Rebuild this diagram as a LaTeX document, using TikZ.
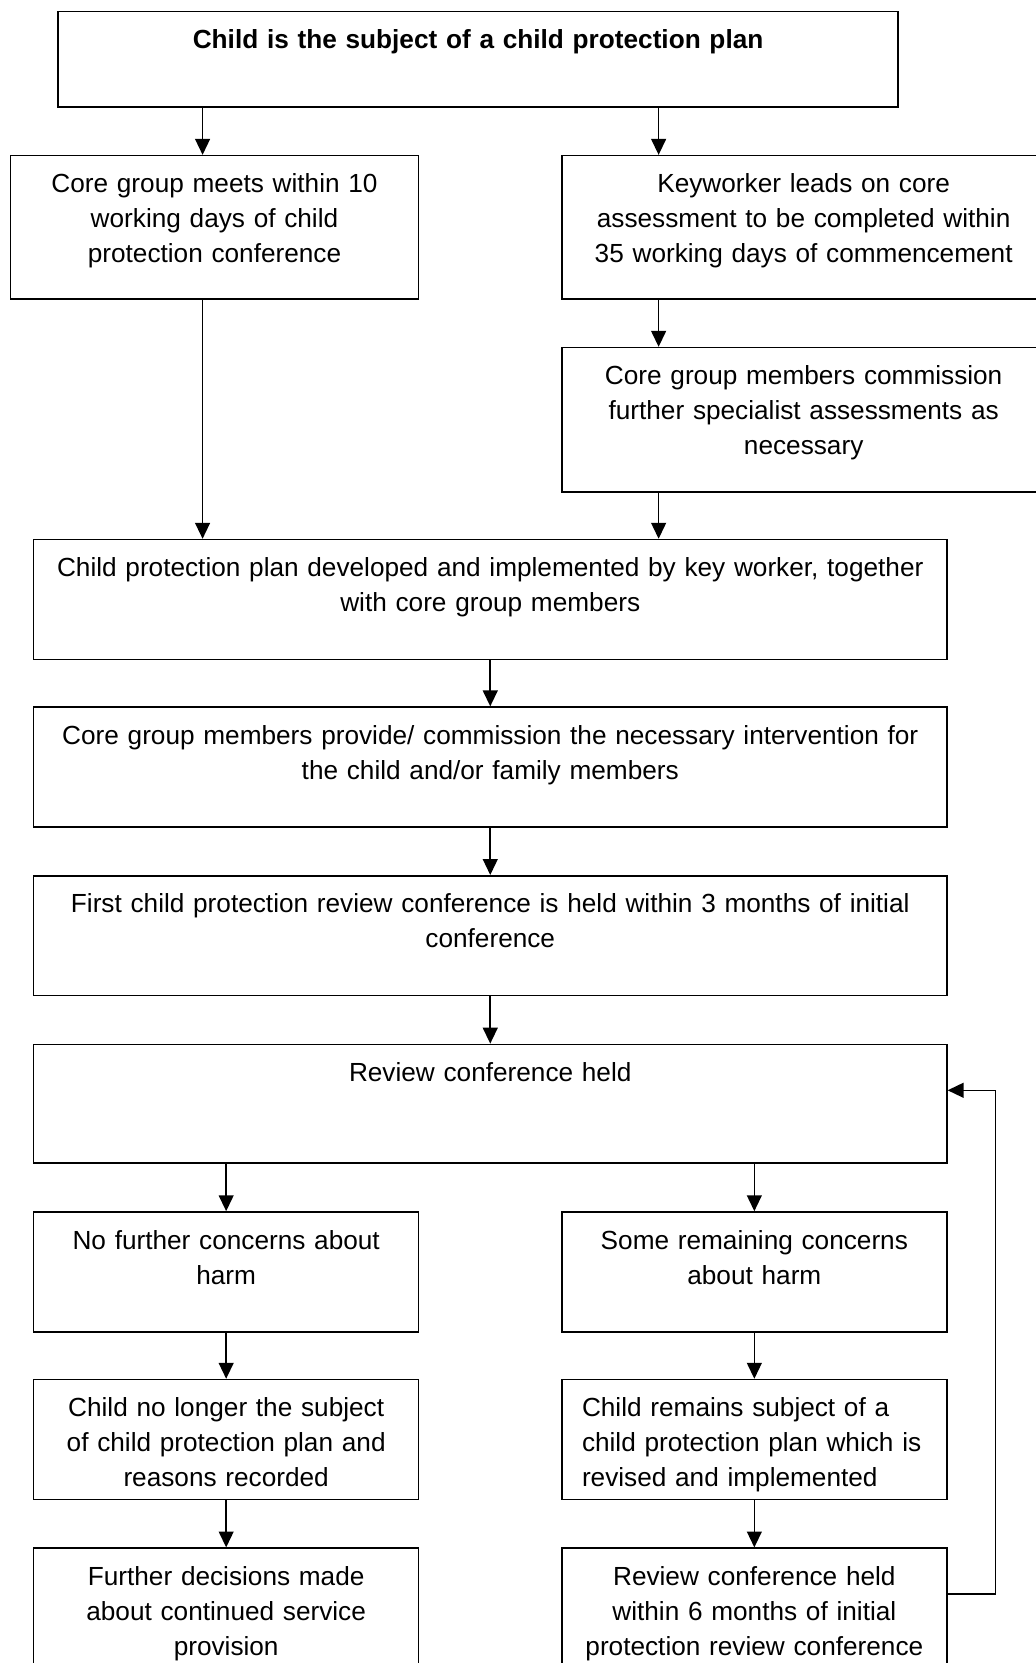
\documentclass[tikz,border=0pt]{standalone}
\usepackage{fontspec}
\setmainfont{Liberation Sans}
\usepackage{tikz}
\usetikzlibrary{arrows.meta}
\tikzset{
  flowarrow/.style={-{Triangle[length=15pt, width=14pt]}, line width=1.5pt},
  stepbox/.style={draw, line width=1.5pt, anchor=north west, inner sep=0pt, align=center, text height=35pt},
  leftbox/.style={stepbox, align=left, inner xsep=19pt}
}

\begin{document}
\begin{tikzpicture}[x=1pt, y=-1pt, every node/.style={font=\fontsize{24.7}{33}\selectfont}]
  \useasboundingbox (0,0) rectangle (976,1568);
  \node[stepbox, text width=792pt, text depth=55pt, font=\fontsize{24.7}{33}\selectfont\bfseries] (top) at (54,10) {Child is the subject of a child protection plan};
  \node[stepbox, text width=385pt, text depth=100pt] (coremeet) at (9,146) {Core group meets within 10\\ working days of child\\ protection conference};
  \node[stepbox, text width=456pt, text depth=100pt] (keyworker) at (529,146) {Keyworker leads on core\\ assessment to be completed within\\ 35 working days of commencement};
  \node[stepbox, text width=456pt, text depth=101pt] (commission) at (529,327) {Core group members commission\\ further specialist assessments as\\ necessary};
  \node[stepbox, text width=861pt, text depth=78pt] (plan) at (31,508) {Child protection plan developed and implemented by key worker, together\\ with core group members};
  \node[stepbox, text width=861pt, text depth=78pt] (intervene) at (31,666) {Core group members provide/ commission the necessary intervention for\\ the child and/or family members};
  \node[stepbox, text width=861pt, text depth=78pt] (firstreview) at (31,825) {First child protection review conference is held within 3 months of initial\\ conference};
  \node[stepbox, text width=861pt, text depth=77pt] (review) at (31,984) {Review conference held};
  \node[stepbox, text width=363pt, text depth=78pt] (noconcern) at (31,1142) {No further concerns about\\ harm};
  \node[stepbox, text width=363pt, text depth=78pt] (someconcern) at (529,1142) {Some remaining concerns\\ about harm};
  \node[stepbox, text width=363pt, text depth=78pt] (nolonger) at (31,1300) {Child no longer the subject\\ of child protection plan and\\ reasons recorded};
  \node[leftbox, text width=325pt, text depth=78pt] (remains) at (529,1300) {Child remains subject of a\\ child protection plan which is\\ revised and implemented};
  \node[stepbox, text width=363pt, text depth=100pt] (further) at (31,1459) {Further decisions made\\ about continued service\\ provision};
  \node[stepbox, text width=363pt, text depth=100pt] (reviewsix) at (529,1459) {Review conference held\\ within 6 months of initial\\ protection review conference};
  \draw[flowarrow] (191,0 |- top.south) -- (191,0 |- coremeet.north);
  \draw[flowarrow] (621,0 |- top.south) -- (621,0 |- keyworker.north);
  \draw[flowarrow] (621,0 |- keyworker.south) -- (621,0 |- commission.north);
  \draw[flowarrow] (191,0 |- coremeet.south) -- (191,0 |- plan.north);
  \draw[flowarrow] (621,0 |- commission.south) -- (621,0 |- plan.north);
  \draw[flowarrow] (plan) -- (intervene);
  \draw[flowarrow] (intervene) -- (firstreview);
  \draw[flowarrow] (firstreview) -- (review);
  \draw[flowarrow] (review.south -| noconcern) -- (noconcern);
  \draw[flowarrow] (review.south -| someconcern) -- (someconcern);
  \draw[flowarrow] (noconcern) -- (nolonger);
  \draw[flowarrow] (someconcern) -- (remains);
  \draw[flowarrow] (nolonger) -- (further);
  \draw[flowarrow] (remains) -- (reviewsix);
  \draw[flowarrow] ([yshift=-44pt]reviewsix.north east) -- ++(45,0) |- ([yshift=-44pt]review.north east);
\end{tikzpicture}
\end{document}
